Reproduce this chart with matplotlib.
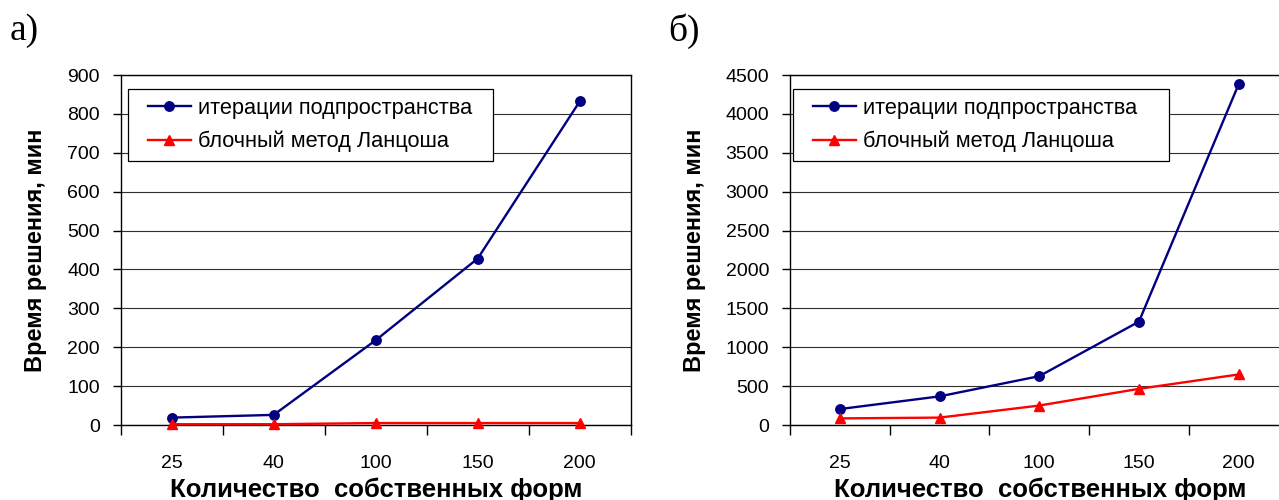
import matplotlib
matplotlib.use("Agg")
import matplotlib.pyplot as plt
from matplotlib.legend_handler import HandlerLine2D
import numpy as np

plt.rcParams['font.family'] = ['Liberation Sans', 'DejaVu Sans']

categories = ['25', '40', '100', '150', '200']
subspace_a = [19, 26, 218, 428, 832]
lanczos_a = [2, 2, 5, 5, 5]
subspace_b = [205, 368, 628, 1329, 4381]
lanczos_b = [85, 95, 250, 465, 650]
yticks_a = list(range(0, 901, 100))
yticks_b = list(range(0, 4501, 500))
label_sub = 'итерации подпространства'
label_lan = 'блочный метод Ланцоша'
xlabel = 'Количество  собственных форм'
ylabel = 'Время решения, мин'

W, H = 1279, 500
fig = plt.figure(figsize=(W / 100, H / 100), dpi=100)

def make_ax(x0, x1, y_top, y_bot, sub, lan, yticks, ylab_x, panel, leg_box, panel_x):
    ax = fig.add_axes([x0 / W, 1 - y_bot / H, (x1 - x0) / W, (y_bot - y_top) / H])
    x = np.arange(len(categories))
    ax.set_xlim(-0.5, len(categories) - 0.5)
    ax.set_ylim(yticks[0], yticks[-1])
    ax.set_yticks(yticks)
    ax.set_yticklabels([str(v) for v in yticks], fontsize=14)
    ax.set_xticks(np.arange(len(categories) + 1) - 0.5)
    ax.set_xticklabels([])
    ax.set_xticks(x, minor=True)
    ax.set_xticklabels(categories, minor=True, fontsize=14)
    ax.tick_params(axis='x', which='major', direction='out', length=7, width=1, color='black')
    ax.tick_params(axis='x', which='minor', length=0, pad=21.5)
    ax.tick_params(axis='y', direction='out', length=6, width=1, pad=9)
    ax.grid(axis='y', color='#303030', linewidth=0.8)
    ax.set_axisbelow(True)
    for s in ax.spines.values():
        s.set_color('black')
        s.set_linewidth(1.0)
    ax.plot(x, sub, color='#000080', linewidth=1.7, marker='o', markersize=6.8,
            label=label_sub, clip_on=False, zorder=3)
    ax.plot(x, lan, color='#FF0000', linewidth=1.7, marker='^', markersize=7.8,
            label=label_lan, clip_on=False, zorder=3)
    lx0, lx1, ly0, ly1 = leg_box
    bw = (x1 - x0)
    bh = (y_bot - y_top)
    leg = ax.legend(loc='upper left', mode='expand',
                    bbox_to_anchor=((lx0 - x0) / bw, (y_bot - ly1) / bh,
                                    (lx1 - lx0) / bw, (ly1 - ly0) / bh),
                    borderaxespad=0, fancybox=False, framealpha=1, edgecolor='black',
                    fontsize=15.7, handlelength=2.5, handletextpad=0.3, labelspacing=0.55,
                    borderpad=0.4,
                    handler_map={plt.Line2D: HandlerLine2D(xpad=0.5)})
    leg.get_frame().set_linewidth(0.9)
    ax.set_xlabel(xlabel, fontsize=18.5, fontweight='bold')
    ax.xaxis.set_label_coords(0.5, (y_bot - 490) / bh)
    ax.xaxis.label.set_verticalalignment('center')
    ax.set_ylabel(ylabel, fontsize=16.9, fontweight='bold')
    ax.yaxis.set_label_coords((ylab_x - x0) / bw, 0.5)
    ax.yaxis.label.set_verticalalignment('center')
    fig.text(panel_x / W, 1 - 31 / H, panel, fontsize=27, family='Liberation Serif',
             va='center', ha='left')
    return ax

ax_a = make_ax(120.7, 630.7, 75, 425, subspace_a, lanczos_a, yticks_a, 36, 'а)',
               (128, 493, 89, 161), 10)
ax_b = make_ax(790, 1288.5, 75, 425, subspace_b, lanczos_b, yticks_b, 695, 'б)',
               (793, 1169, 89, 161), 668)
ax_b.xaxis.set_label_coords((1040 - 790) / (1288.5 - 790), (425 - 490) / 350)

fig.savefig('out.png', dpi=100)
